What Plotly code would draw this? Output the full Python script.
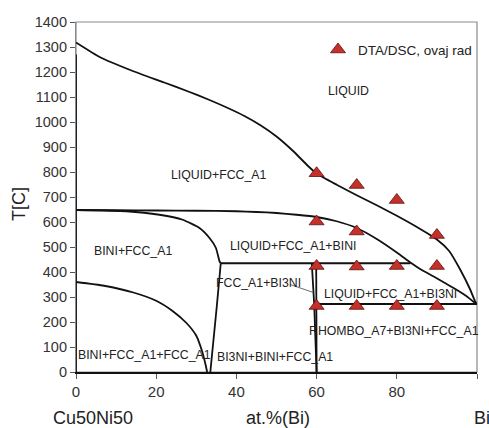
import plotly.graph_objects as go

# ---- data ----
liq_x = [0, 6, 14, 22, 28, 33, 38, 42, 46, 50, 54, 58, 60, 65, 70, 75, 80, 85, 90, 93, 95.8, 98.3, 99.6, 100]
liq_T = [1318, 1259, 1205, 1158, 1122, 1090, 1055, 1024, 987, 942, 886, 822, 794, 749, 707, 667, 625, 580, 530, 485, 410, 330, 280, 271]

inner_x = [0, 10, 20, 30, 40, 45, 50, 55, 60, 65, 70, 75, 80, 83.4, 86, 89.2, 92, 95, 97.5, 99.2, 100]
inner_T = [648, 647, 646, 645, 643, 640, 636, 629, 620, 603, 576, 532, 478, 438, 410, 382, 356, 328, 302, 280, 271]

bini_x = [0, 12.5, 20.8, 26.6, 30.8, 33.3, 34.9, 35.8, 36.1]
bini_T = [648, 643, 629, 609, 576, 536, 496, 442, 435]

low_x = [0, 7, 14.3, 20, 24, 27.6, 30, 31.5, 32.3, 32.7]
low_T = [360, 345, 318, 285, 245, 195, 145, 80, 30, 0]

v36_x = [36.1, 35.1, 33.5]
v36_T = [435, 261, 0]

h435_x = [36.1, 83.4]
h435_T = [435, 435]

v60a_x = [58.8, 59.4, 60.0]
v60a_T = [435, 272, 0]
v60b_x = [59.9, 60.0]
v60b_T = [435, 0]

eut_x = [60, 100]
eut_T = [272, 272]

v0_x = [0, 0]
v0_T = [0, 1270]

lead_x = [53.4, 59.2]
lead_T = [350, 318]

exp_x = [60, 70, 80, 60, 70, 90, 60, 70, 80, 90, 60, 70, 80, 90]
exp_T = [795, 748, 688, 602, 562, 548, 424, 422, 424, 424, 264, 264, 264, 264]

labels = ["LIQUID", "LIQUID+FCC_A1", "BINI+FCC_A1", "LIQUID+FCC_A1+BINI", "FCC_A1+BI3NI",
          "LIQUID+FCC_A1+BI3NI", "RHOMBO_A7+BI3NI+FCC_A1", "BI3NI+BINI+FCC_A1", "BINI+FCC_A1+FCC_A1"]
label_x = [68, 35.5, 14.3, 54, 45.5, 78.5, 79.4, 49.7, 17.2]
label_T = [1125, 787, 483, 506, 355, 312, 165, 60, 68]

x_ticks = [0, 20, 40, 60, 80, 100]
y_ticks = list(range(0, 1401, 100))

FONT = "Liberation Sans, Arial, sans-serif"

fig = go.Figure()

line_style = dict(color="#111111", width=1.8)
for xs, ts in [(liq_x, liq_T), (inner_x, inner_T), (bini_x, bini_T), (low_x, low_T),
               (v36_x, v36_T), (h435_x, h435_T), (v60a_x, v60a_T), (v60b_x, v60b_T),
               (eut_x, eut_T), (v0_x, v0_T)]:
    fig.add_trace(go.Scatter(x=xs, y=ts, mode="lines", line=dict(line_style, shape="spline", smoothing=0.5),
                             showlegend=False, hoverinfo="skip"))

fig.add_trace(go.Scatter(x=lead_x, y=lead_T, mode="lines", line=dict(color="#444444", width=0.8),
                         showlegend=False, hoverinfo="skip"))

fig.add_trace(go.Scatter(x=exp_x, y=exp_T, mode="markers", name="DTA/DSC, ovaj rad",
                         marker=dict(symbol="triangle-up", size=13, color="#C62F2A",
                                     line=dict(color="#5a1010", width=0.8))))

for t, lx, lt in zip(labels, label_x, label_T):
    fig.add_annotation(x=lx, y=lt, text=t, showarrow=False, xanchor="center", yanchor="middle",
                       font=dict(family=FONT, size=12.3, color="#222222"))

fig.add_annotation(xref="paper", yref="paper", x=-0.142, y=0.48, text="T[C]", textangle=-90,
                   xanchor="center", yanchor="middle", showarrow=False,
                   font=dict(family=FONT, size=18, color="#222222"))
for txt, px in [("Cu50Ni50", 0.042), ("at.%(Bi)", 0.504), ("Bi", 1.012)]:
    fig.add_annotation(xref="paper", yref="paper", x=px, y=-0.131, text=txt, showarrow=False,
                       xanchor="center", yanchor="middle",
                       font=dict(family=FONT, size=18, color="#222222"))

fig.add_shape(type="rect", xref="paper", yref="paper", x0=0, y0=0, x1=1, y1=1,
              line=dict(color="#8a8a8a", width=1.2), layer="below")

fig.update_layout(
    width=489, height=428, autosize=False,
    margin=dict(l=76, r=12, t=22, b=56),
    paper_bgcolor="white", plot_bgcolor="white",
    font=dict(family=FONT, size=14.5, color="#333333"),
    legend=dict(x=1.0, y=0.965, xanchor="right", yanchor="top", bgcolor="rgba(0,0,0,0)",
                font=dict(size=13.5, color="#222222"), itemwidth=30),
    xaxis=dict(range=[0, 100], tickvals=x_ticks, ticks="outside", ticklen=5, tickcolor="#555555",
               showgrid=False, zeroline=False, showline=True, linecolor="#111111", linewidth=1.8,
               tickfont=dict(size=15, color="#333333")),
    yaxis=dict(range=[0, 1400], tickvals=y_ticks, ticks="outside", ticklen=5, tickcolor="#555555",
               showgrid=False, zeroline=False, showline=True, linecolor="#8a8a8a", linewidth=1.2,
               tickfont=dict(size=14.5, color="#333333")),
)

post = ("document.body.style.margin='0';document.body.style.overflow='hidden';"
        "var gd=document.getElementById('{plot_id}');"
        "Plotly.relayout(gd,{width:489,height:428});")

fig.write_html("out.html", config={"responsive": False, "displayModeBar": False}, post_script=post)
